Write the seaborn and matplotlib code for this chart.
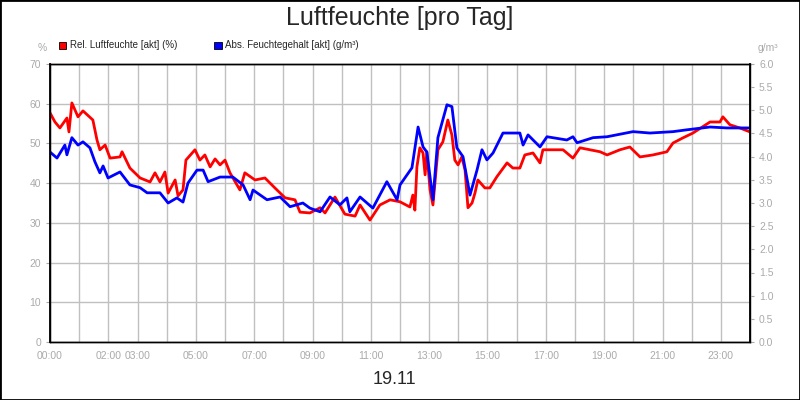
import matplotlib
matplotlib.use("Agg")
import matplotlib.pyplot as plt
import seaborn as sns
import pandas as pd
from matplotlib.patches import Rectangle

# relative humidity (%) - hour of day
rel_hours = [0.0, 0.17, 0.34, 0.58, 0.65, 0.75, 0.96, 1.13, 1.47, 1.61, 1.71, 1.89, 2.06, 2.40, 2.47,
             2.74, 3.09, 3.43, 3.60, 3.77, 3.94, 4.05, 4.29, 4.39, 4.56, 4.66, 4.97, 5.14, 5.31, 5.49,
             5.66, 5.83, 6.0, 6.17, 6.51, 6.68, 7.03, 7.37, 7.71, 8.06, 8.40, 8.57, 8.91, 9.26, 9.43,
             9.77, 10.11, 10.46, 10.63, 10.97, 11.31, 11.66, 12.0, 12.34, 12.44, 12.51, 12.58, 12.68,
             12.79, 12.86, 12.92, 13.03, 13.13, 13.30, 13.47, 13.64, 13.78, 13.88, 13.99, 14.12, 14.23,
             14.33, 14.47, 14.57, 14.67, 14.91, 15.08, 15.32, 15.67, 15.87, 16.11, 16.28, 16.56, 16.80,
             16.90, 17.59, 17.93, 18.17, 18.86, 19.10, 19.54, 19.88, 20.23, 20.67, 21.15, 21.36, 21.70,
             22.04, 22.63, 22.97, 23.07, 23.31, 23.65, 24.0]
rel_values = [57.7, 55.4, 53.9, 56.4, 52.9, 60.2, 56.7, 58.2, 55.9, 50.9, 48.4, 49.6, 46.3, 46.6, 47.9,
              43.8, 41.3, 40.3, 42.6, 40.3, 42.8, 37.5, 40.8, 36.8, 38.3, 45.8, 48.4, 45.8, 47.1, 44.1,
              46.1, 44.6, 45.8, 42.6, 38.3, 42.6, 40.8, 41.3, 38.8, 36.3, 35.8, 32.7, 32.5, 33.8, 32.5,
              36.5, 32.2, 31.7, 34.5, 30.7, 34.5, 35.8, 35.3, 34.0, 37.0, 33.2, 44.1, 48.9,
              47.6, 42.1, 47.9, 38.3, 34.5, 48.4, 50.4, 55.9, 52.1, 45.8, 44.6, 46.6, 43.3,
              33.8, 35.0, 37.5, 40.8, 38.8, 38.8, 41.6, 45.1, 43.8, 43.8, 47.1, 47.6, 45.1,
              48.4, 48.4, 46.3, 48.9, 47.9, 47.1, 48.4, 49.1, 46.6, 47.1, 47.9, 50.1, 51.4,
              52.6, 55.4, 55.4, 56.7, 54.7, 53.9, 52.9]

# absolute humidity (g/m³)
abs_hours = [0.0, 0.24, 0.51, 0.58, 0.75, 0.96, 1.13, 1.37, 1.54, 1.71, 1.82, 1.99, 2.40, 2.74, 3.09,
             3.33, 3.77, 4.05, 4.35, 4.56, 4.73, 5.04, 5.25, 5.42, 5.83, 6.27, 6.62, 6.86, 6.96, 7.44,
             7.89, 8.23, 8.67, 8.91, 9.26, 9.60, 9.94, 10.18, 10.28, 10.63, 11.07, 11.55, 11.90, 12.0,
             12.41, 12.62, 12.79, 12.92, 13.13, 13.30, 13.61, 13.78, 13.95, 14.16, 14.40, 14.64, 14.81,
             14.98, 15.19, 15.53, 16.11, 16.22, 16.39, 16.80, 17.04, 17.72, 17.93, 18.07, 18.62, 19.10,
             19.99, 20.57, 21.36, 21.84, 22.63, 23.21, 24.0]
abs_values = [4.10, 3.97, 4.25, 4.04, 4.41, 4.25, 4.32, 4.19, 3.89, 3.65, 3.80, 3.54, 3.67, 3.39, 3.33,
              3.22, 3.22, 3.00, 3.11, 3.02, 3.43, 3.71, 3.71, 3.46, 3.56, 3.56, 3.39, 3.07, 3.28, 3.07,
              3.13, 2.92, 3.00, 2.89, 2.81, 3.13, 2.96, 3.11, 2.81, 3.13, 2.89, 3.46, 3.07, 3.39,
              3.76, 4.64, 4.21, 4.10, 3.07, 4.41, 5.12, 5.08, 4.19, 4.00, 3.17, 3.71, 4.15,
              3.93, 4.08, 4.51, 4.51, 4.25, 4.47, 4.21, 4.43, 4.36, 4.43, 4.30, 4.41, 4.43,
              4.54, 4.51, 4.54, 4.58, 4.64, 4.62, 4.62]

tick_hours = [0, 2, 3, 5, 7, 9, 11, 13, 15, 17, 19, 21, 23]
tick_labels = ["00:00", "02:00", "03:00", "05:00", "07:00", "09:00", "11:00",
               "13:00", "15:00", "17:00", "19:00", "21:00", "23:00"]

rel_df = pd.DataFrame({"hour": rel_hours, "value": rel_values})
abs_df = pd.DataFrame({"hour": abs_hours, "value": abs_values})

sns.set_style("white")
plt.rcParams["font.family"] = "Liberation Sans"
fig = plt.figure(figsize=(8, 4), dpi=100)
fig.patches.append(Rectangle((0, 0), 1, 1, transform=fig.transFigure, fill=False,
                             edgecolor="black", linewidth=2))
ax = fig.add_axes([0.0625, 0.145, 0.875, 0.695])
ax2 = ax.twinx()

grey = "#aaaaaa"
ax.set_xlim(0, 24)
ax.set_ylim(0, 70)
ax2.set_ylim(0, 6.0)
ax.set_xticks(range(0, 25), minor=True)
ax.set_xticks(tick_hours)
ax.set_xticklabels(tick_labels)
ax.set_yticks(range(0, 71, 10))
ax2.set_yticks([i * 0.5 for i in range(13)])
ax2.set_yticklabels([f"{i * 0.5:.1f}" for i in range(13)])
ax.grid(True, which="both", color="#c0c0c0", linewidth=1)
ax.set_axisbelow(True)

sns.lineplot(data=rel_df, x="hour", y="value", ax=ax, color="#ff0000", linewidth=2)
sns.lineplot(data=abs_df, x="hour", y="value", ax=ax2, color="#0000ff", linewidth=2)

for a in (ax, ax2):
    a.set_xlabel("")
    a.set_ylabel("")
    a.tick_params(labelsize=7.5, colors=grey, labelcolor=grey, length=3)
    for s in a.spines.values():
        s.set_color("black")
        s.set_linewidth(1)
ax.tick_params(which="minor", length=3, colors=grey)
ax.spines["left"].set_linewidth(1.3)
ax2.spines["right"].set_linewidth(1.3)

fig.text(0.5, 0.955, "Luftfeuchte [pro Tag]", ha="center", va="center", fontsize=18)
fig.text(0.053, 0.88, "%", ha="center", va="center", fontsize=7.5, color=grey)
fig.text(0.96, 0.88, "g/m³", ha="center", va="center", fontsize=7.5, color=grey)
fig.text(0.493, 0.05, "19.11", ha="center", va="center", fontsize=13)

fig.patches.append(Rectangle((0.074, 0.878), 0.009, 0.018, transform=fig.transFigure,
                             facecolor="#ff0000", edgecolor="black", linewidth=0.6))
fig.text(0.087, 0.887, "Rel. Luftfeuchte [akt] (%)", va="center", fontsize=7)
fig.patches.append(Rectangle((0.268, 0.878), 0.009, 0.018, transform=fig.transFigure,
                             facecolor="#0000ff", edgecolor="black", linewidth=0.6))
fig.text(0.281, 0.887, "Abs. Feuchtegehalt [akt] (g/m³)", va="center", fontsize=7)

fig.savefig("out.png", dpi=100)
